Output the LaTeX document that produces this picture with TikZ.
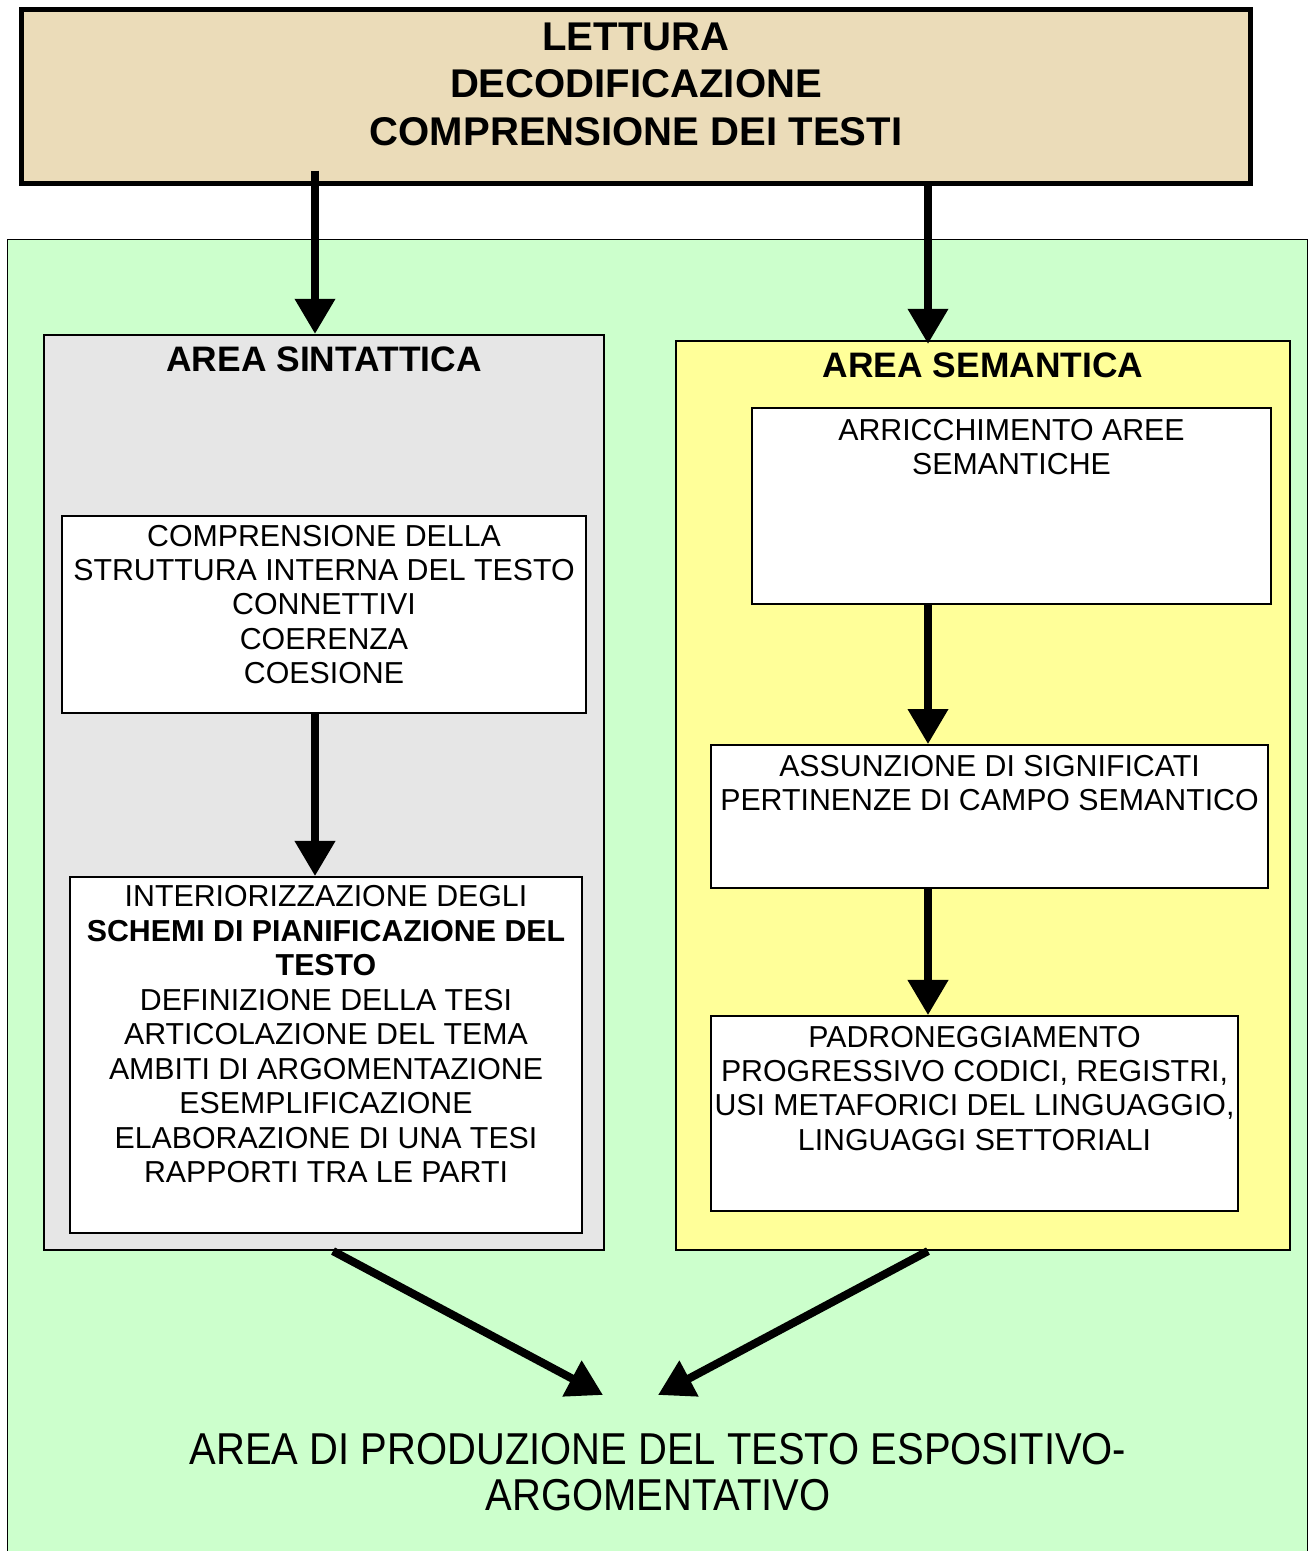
\documentclass[tikz,border=0pt]{standalone}
\usepackage{fontspec}
\setmainfont{Liberation Sans}
\newfontfamily\narrowfont[FakeStretch=0.895]{Liberation Sans}
\usepackage{tikz}
\usetikzlibrary{arrows.meta,positioning}

\definecolor{parchment}{HTML}{EBDCB9}
\definecolor{prodgreen}{HTML}{CCFFCC}
\definecolor{sintgray}{HTML}{E6E6E6}
\definecolor{semyellow}{HTML}{FFFF99}

\tikzset{
  box/.style={draw, line width=0.45pt, fill=white, inner sep=0pt},
  boxtext/.style={align=center, inner sep=0pt, font=\fontsize{8.62}{9.8}\selectfont},
  headtext/.style={align=center, inner sep=0pt, font=\fontsize{10.06}{12}\selectfont\bfseries},
  titletext/.style={align=center, inner sep=0pt, font=\fontsize{11.4}{13.4}\selectfont\bfseries},
  fatarrow/.style={line width=2.3pt, -{Triangle[width=11pt,length=10pt]}}
}

\begin{document}
\begin{tikzpicture}[x=0.01cm, y=-0.01cm]
  \useasboundingbox (0,0) rectangle (1308,1551);

  % green area with the two columns
  \node[box, fill=prodgreen, minimum width=12.99cm, minimum height=13.3cm] (prod) at (657.5,905) {};
  \node[box, fill=sintgray, minimum width=5.6cm, minimum height=9.15cm] (sint) at (324,792.5) {};
  \node[box, fill=semyellow, minimum width=6.14cm, minimum height=9.09cm] (sem) at (983,795.5) {};

  % top box
  \node[box, fill=parchment, line width=1.4pt, minimum width=12.28cm, minimum height=1.73cm] (lettura) at (636,96.5) {};
  \node[titletext, below=0.15cm of lettura.north] (letturaT) {LETTURA\\DECODIFICAZIONE\\COMPRENSIONE DEI TESTI};

  \coordinate (colL) at (315,0);
  \coordinate (colR) at (928,0);

  % area sintattica
  \node[headtext, below=0.12cm of sint.north] (sintT) {AREA SINTATTICA};
  \node[box, minimum width=5.24cm, minimum height=1.97cm] (comp) at (324,614.5) {};
  \node[boxtext, below=0.09cm of comp.north] (compT)
    {COMPRENSIONE DELLA\\STRUTTURA INTERNA DEL TESTO\\CONNETTIVI\\COERENZA\\COESIONE};
  \node[box, minimum width=5.12cm, minimum height=3.56cm] (inter) at (326,1055) {};
  \node[boxtext, below=0.09cm of inter.north] (interT)
    {INTERIORIZZAZIONE DEGLI\\\textbf{SCHEMI DI PIANIFICAZIONE DEL}\\\textbf{TESTO}\\DEFINIZIONE DELLA TESI\\ARTICOLAZIONE DEL TEMA\\AMBITI DI ARGOMENTAZIONE\\ESEMPLIFICAZIONE\\ELABORAZIONE DI UNA TESI\\RAPPORTI TRA LE PARTI};

  % area semantica
  \node[headtext, below=0.12cm of sem.north] (semT) {AREA SEMANTICA};
  \node[box, minimum width=5.19cm, minimum height=1.96cm] (arric) at (1011.5,506) {};
  \node[boxtext, below=0.11cm of arric.north] (arricT) {ARRICCHIMENTO AREE\\SEMANTICHE};
  \node[box, minimum width=5.57cm, minimum height=1.43cm] (assun) at (989.5,816.5) {};
  \node[boxtext, below=0.1cm of assun.north] (assunT) {ASSUNZIONE DI SIGNIFICATI\\PERTINENZE DI CAMPO SEMANTICO};
  \node[box, minimum width=5.27cm, minimum height=1.95cm] (padron) at (974.5,1113.5) {};
  \node[boxtext, below=0.1cm of padron.north] (padronT)
    {PADRONEGGIAMENTO\\PROGRESSIVO CODICI, REGISTRI,\\USI METAFORICI DEL LINGUAGGIO,\\LINGUAGGI SETTORIALI};

  % bottom text
  \node[align=center, inner sep=0pt, font=\fontsize{12.7}{12.9}\selectfont\narrowfont] (prodT) at (658,1472)
    {AREA DI PRODUZIONE DEL TESTO ESPOSITIVO-\\ARGOMENTATIVO};
  \coordinate (goalL) at (603,1395);
  \coordinate (goalR) at (658,1395);

  % arrows
  \draw[fatarrow] ([yshift=0.15cm]lettura.south -| colL) -- (sint.north -| colL);
  \draw[fatarrow] (lettura.south -| colR) -- ([yshift=-0.04cm]sem.north -| colR);
  \draw[fatarrow] (comp.south -| colL) -- (inter.north -| colL);
  \draw[fatarrow] (arric.south -| colR) -- (assun.north -| colR);
  \draw[fatarrow] (assun.south -| colR) -- (padron.north -| colR);
  \draw[fatarrow] ([xshift=0.09cm]sint.south) -- (goalL);
  \draw[fatarrow] (sem.south -| colR) -- (goalR);
\end{tikzpicture}
\end{document}
